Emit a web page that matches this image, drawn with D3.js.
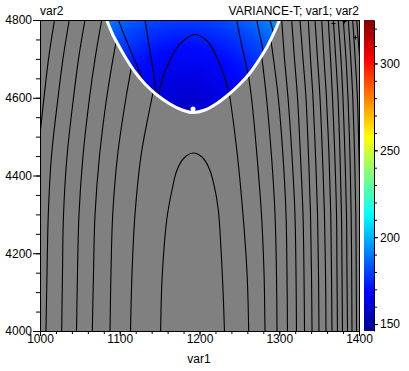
<!DOCTYPE html>
<html>
<head>
<meta charset="utf-8">
<script src="https://cdn.jsdelivr.net/npm/d3@7"></script>
<style>
body { margin: 0; background: #fff; }
svg text { font-family: "Liberation Sans", Arial, sans-serif; font-size: 12px; fill: #000; }
.axis path, .axis line { stroke: #000; }
</style>
</head>
<body>
<svg id="chart" width="409" height="371"></svg>
<script>
// var2 rows where the near-vertical contours were read
var var2Levels = [4000, 4150, 4300, 4450, 4600, 4700, 4800];

// var1 of each contour at the var2Levels rows (left of the minimum)
var leftContours = [
  [985, 988, 992, 997.5, 1005, 1010.7, 1018.2],
  [1007.5, 1008.8, 1010.4, 1014.4, 1022.6, 1028.8, 1036.7],
  [1027.2, 1028.2, 1029.5, 1033.9, 1042.0, 1048.3, 1056.4],
  [1045.8, 1047.0, 1048.9, 1053.9, 1062.1, 1069.0, 1077.4],
  [1065.6, 1067.1, 1069.0, 1074.6, 1083.6, 1091.5, 1100.3],
  [1087.8, 1089.0, 1091.2, 1097.2, 1107.8, 1116.6, 1125.4],
  [1113.5, 1115.4, 1119.1, 1126.6, 1140.4, 1150.5, 1160.5]
];

// right of the minimum
var rightContours = [
  [1261.7, 1259.6, 1254.5, 1247.6, 1238.2, 1229.5, 1219.4],
  [1282.1, 1280.9, 1277.7, 1272.1, 1265.2, 1258.3, 1250.8],
  [1297.2, 1296.5, 1294.7, 1290.3, 1284.0, 1278.4, 1272.1],
  [1310.3, 1309.7, 1308.5, 1304.7, 1298.8, 1292.8, 1285.9],
  [1321.6, 1321.0, 1319.7, 1316.0, 1311.0, 1306.6, 1303.1],
  [1331.7, 1331.0, 1329.8, 1326.6, 1322.9, 1319.1, 1315.6],
  [1341.1, 1340.4, 1339.2, 1336.7, 1333.5, 1329.8, 1326.0],
  [1349.8, 1349.2, 1348.0, 1345.5, 1342.3, 1339.2, 1336.4],
  [1358.6, 1358.0, 1356.7, 1354.2, 1351.1, 1348.0, 1344.8],
  [1366.1, 1365.5, 1364.6, 1362.4, 1359.2, 1356.1, 1353.2],
  [1373.0, 1372.4, 1371.8, 1369.7, 1366.8, 1364.3, 1361.5],
  [1379.3, 1378.7, 1378.0, 1376.2, 1373.7, 1370.9, 1367.8],
  [1385.6, 1384.9, 1384.3, 1382.4, 1379.9, 1377.4, 1374.0],
  [1391.2, 1390.8, 1390.2, 1388.7, 1386.2, 1383.7, 1380.3],
  [1396.9, 1396.5, 1396.0, 1394.5, 1392.2, 1389.7, 1386.6],
  [1402.5, 1402.1, 1401.5, 1400.0, 1398.0, 1395.2, 1392.1],
  [1408.0, 1408.0, 1407.0, 1406.0, 1403.5, 1400.8, 1397.1]
];

// closed contour round the minimum (var1, var2)
var innerContour = [
  [1151.3, 4000], [1153.0, 4131.2], [1158.9, 4285.5], [1165.5, 4362.7],
  [1171.8, 4414.1], [1180.6, 4445.0], [1191.9, 4457.9], [1203.1, 4447.6],
  [1211.9, 4419.3], [1218.2, 4375.6], [1223.6, 4311.3], [1227.0, 4208.4],
  [1229.5, 4105.5], [1231.3, 4000]
];

// edge of the coloured region (white line)
var maskEdge = [
  [1083.6, 4800], [1091.5, 4761.4], [1100.3, 4728.0], [1109.1, 4697.1],
  [1119.1, 4666.2], [1131.7, 4635.4], [1146.7, 4607.1], [1163.0, 4583.9],
  [1178.1, 4568.5], [1191.9, 4562.1], [1206.9, 4568.5],
  [1220.7, 4583.9], [1235.7, 4607.1], [1250.8, 4635.4], [1263.3, 4663.7],
  [1274.6, 4697.1], [1284.6, 4730.5], [1293.4, 4766.6], [1300.3, 4800]
];

// white blob sitting on the bottom of the edge
var edgeBlob = [1191.9, 4571];

// contours seen inside the coloured region
var maskContours = [
  [[1098.2, 4800], [1109.1, 4743.4], [1121.3, 4684.2], [1131.7, 4632.8]],
  [[1131.7, 4800], [1136.7, 4735.7], [1141.7, 4671.4], [1145.5, 4614.8], [1148, 4581]],
  [[1146.7, 4583.9], [1153.0, 4645.7], [1163.0, 4697.1], [1175.5, 4738.3], [1194.4, 4762.7],
   [1210.7, 4743.4], [1222.0, 4702.3], [1230.7, 4658.5], [1238.2, 4599.4]],
  [[1246.6, 4800], [1252.0, 4743.4], [1259.2, 4676.5], [1263.3, 4625.1]],
  [[1271.7, 4800], [1275.9, 4758.8], [1280.0, 4719.5], [1283.4, 4684.2]],
  [[1288.4, 4800], [1292.2, 4771.7], [1295.9, 4743.4]]
];

// small cross marks top right
var marks = [[1367.6, 4791.5], [1381.6, 4798.2], [1395.0, 4756.3]];

// VARIANCE-T inside the region: centre value out to the edge
var fillCentre = [1183, 4555];
var fillValues = [156, 162, 170, 181, 195];

var colorDomain = [146, 325];
var colorTicks = [150, 200, 250, 300];
var colorMinor = d3.range(150, 330, 10);
var xTicks = [1000, 1100, 1200, 1300, 1400];
var xMinor = d3.range(1000, 1401, 20);
var yTicks = [4000, 4200, 4400, 4600, 4800];
var yMinor = d3.range(4000, 4801, 50);

var jetPos = [0, 0.125, 0.375, 0.625, 0.875, 1];
var jetColors = ['#00008f', '#0000ff', '#00ffff', '#ffff00', '#ff0000', '#800000'];

var svg = d3.select('#chart');

var pLeft = 40, pRight = 359, pTop = 20, pBottom = 331;

var xScale = d3.scaleLinear().domain([1000, 1400]).range([pLeft, pRight]);
var yScale = d3.scaleLinear().domain([4000, 4800]).range([pBottom, pTop]);
var fmt = d3.format('d');

var jet = d3.scaleLinear()
  .domain(jetPos.map(function(t) { return colorDomain[0] + t * (colorDomain[1] - colorDomain[0]); }))
  .range(jetColors)
  .clamp(true);

var line = d3.line()
  .curve(d3.curveCatmullRom)
  .x(function(d) { return xScale(d[0]); })
  .y(function(d) { return yScale(d[1]); });

var defs = svg.append('defs');

// mask polygon (closed along the top, a bit above the plot)
var maskPoly = maskEdge.slice();
maskPoly.push([1300.3, 4900]);
maskPoly.push([1083.6, 4900]);
var maskPath = line(maskEdge) + 'L' + xScale(1300.3) + ',' + yScale(4900) +
  'L' + xScale(1083.6) + ',' + yScale(4900) + 'Z';
var rectPath = 'M' + pLeft + ',' + pTop + 'H' + pRight + 'V' + pBottom + 'H' + pLeft + 'Z';

defs.append('clipPath').attr('id', 'plotClip')
  .append('rect')
  .attr('x', pLeft).attr('y', pTop)
  .attr('width', pRight - pLeft).attr('height', pBottom - pTop);

defs.append('clipPath').attr('id', 'grayClip')
  .append('path')
  .attr('d', rectPath + maskPath)
  .attr('clip-rule', 'evenodd');

defs.append('clipPath').attr('id', 'blueClip')
  .append('path')
  .attr('d', maskPath);

var rg = defs.append('radialGradient')
  .attr('id', 'fillGrad')
  .attr('gradientUnits', 'userSpaceOnUse')
  .attr('cx', xScale(fillCentre[0]))
  .attr('cy', yScale(fillCentre[1]))
  .attr('r', 135);
fillValues.forEach(function(v, i) {
  rg.append('stop')
    .attr('offset', i / (fillValues.length - 1))
    .attr('stop-color', jet(v));
});

var lg = defs.append('linearGradient')
  .attr('id', 'barGrad')
  .attr('x1', 0).attr('y1', 1).attr('x2', 0).attr('y2', 0);
jetPos.forEach(function(t, i) {
  lg.append('stop').attr('offset', t).attr('stop-color', jetColors[i]);
});

var plot = svg.append('g').attr('clip-path', 'url(#plotClip)');

plot.append('rect')
  .attr('x', pLeft).attr('y', pTop)
  .attr('width', pRight - pLeft).attr('height', pBottom - pTop)
  .attr('fill', '#808080');

plot.append('path')
  .attr('d', maskPath)
  .attr('fill', 'url(#fillGrad)');

var grayLines = plot.append('g').attr('clip-path', 'url(#grayClip)');

leftContours.concat(rightContours).forEach(function(c) {
  var pts = var2Levels.map(function(v, i) { return [c[i], v]; });
  grayLines.append('path')
    .attr('d', line(pts))
    .attr('fill', 'none')
    .attr('stroke', '#000')
    .attr('stroke-width', 1.1);
});

grayLines.append('path')
  .attr('d', line(innerContour))
  .attr('fill', 'none')
  .attr('stroke', '#000')
  .attr('stroke-width', 1.1);

var blueLines = plot.append('g').attr('clip-path', 'url(#blueClip)');
maskContours.forEach(function(c) {
  blueLines.append('path')
    .attr('d', line(c))
    .attr('fill', 'none')
    .attr('stroke', '#000')
    .attr('stroke-width', 1.1);
});

plot.append('path')
  .attr('d', line(maskEdge))
  .attr('fill', 'none')
  .attr('stroke', '#fff')
  .attr('stroke-width', 3);

plot.append('ellipse')
  .attr('cx', xScale(edgeBlob[0]))
  .attr('cy', yScale(edgeBlob[1]))
  .attr('rx', 2.5).attr('ry', 2.5)
  .attr('fill', '#fff');

marks.forEach(function(m) {
  var mx = Math.round(xScale(m[0])) + 0.5, my = Math.round(yScale(m[1])) + 0.5;
  plot.append('path')
    .attr('d', 'M' + (mx - 2) + ',' + my + 'H' + (mx + 2) + 'M' + mx + ',' + (my - 2) + 'V' + (my + 2))
    .attr('stroke', '#000');
});

// frame
svg.append('rect')
  .attr('x', pLeft + 0.5).attr('y', pTop + 0.5)
  .attr('width', pRight - pLeft).attr('height', pBottom - pTop)
  .attr('fill', 'none')
  .attr('stroke', '#000');

function plainText(g) {
  g.attr('font-size', null).attr('font-family', null);
}

// axes
svg.append('g')
  .attr('class', 'axis')
  .attr('transform', 'translate(0,' + pBottom + ')')
  .call(d3.axisBottom(xScale).tickValues(xMinor).tickSize(3).tickFormat(''))
  .call(function(g) { g.select('.domain').remove(); });

svg.append('g')
  .attr('class', 'axis')
  .attr('transform', 'translate(0,' + pBottom + ')')
  .call(d3.axisBottom(xScale).tickValues(xTicks).tickFormat(fmt).tickSize(5).tickPadding(-2).tickSizeOuter(0))
  .call(plainText);

svg.append('g')
  .attr('class', 'axis')
  .attr('transform', 'translate(' + pLeft + ',0)')
  .call(d3.axisLeft(yScale).tickValues(yMinor).tickSize(4).tickFormat(''))
  .call(function(g) { g.select('.domain').remove(); });

svg.append('g')
  .attr('class', 'axis')
  .attr('transform', 'translate(' + pLeft + ',0)')
  .call(d3.axisLeft(yScale).tickValues(yTicks).tickFormat(fmt).tickSize(7).tickPadding(1).tickSizeOuter(0))
  .call(plainText);

// colour bar
var barX = 364, barW = 10;
var cScale = d3.scaleLinear().domain(colorDomain).range([pBottom, pTop]);

svg.append('rect')
  .attr('x', barX).attr('y', pTop)
  .attr('width', barW).attr('height', pBottom - pTop)
  .attr('fill', 'url(#barGrad)');

svg.append('g')
  .attr('class', 'axis')
  .attr('transform', 'translate(' + (barX + barW) + ',0)')
  .call(d3.axisRight(cScale).tickValues(colorMinor).tickSize(3).tickFormat(''))
  .call(function(g) { g.select('.domain').remove(); });

svg.append('g')
  .attr('class', 'axis')
  .attr('transform', 'translate(' + (barX + barW) + ',0)')
  .call(d3.axisRight(cScale).tickValues(colorTicks).tickFormat(fmt).tickSize(4).tickPadding(2).tickSizeOuter(0))
  .call(plainText);

// titles
svg.append('text').attr('x', 40).attr('y', 15).text('var2');
svg.append('text').attr('x', 359).attr('y', 15).attr('text-anchor', 'end').text('VARIANCE-T; var1; var2');
svg.append('text').attr('x', 199).attr('y', 363).attr('text-anchor', 'middle').text('var1');
</script>
</body>
</html>
